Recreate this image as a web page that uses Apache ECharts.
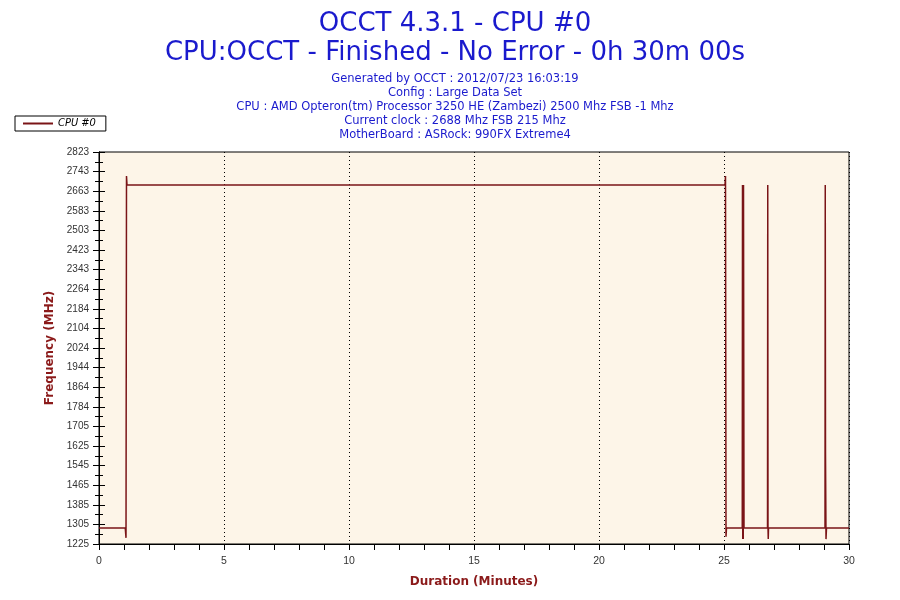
<!DOCTYPE html>
<html>
<head>
<meta charset="utf-8">
<script src="https://cdn.jsdelivr.net/npm/echarts@6/dist/echarts.min.js"></script>
<style>
  html, body { margin: 0; padding: 0; background: #fff; }
  #chart { width: 900px; height: 600px; }
</style>
</head>
<body>
<div id="chart"></div>
<script>
// y axis runs from 1225 to 2823 in 20 steps, labels as printed by OCCT
const yMin = 1225
const yMax = 2823
const yTickLabels = ['1225', '1305', '1385', '1465', '1545', '1625', '1705', '1784', '1864', '1944',
    '2024', '2104', '2184', '2264', '2343', '2423', '2503', '2583', '2663', '2743', '2823']

// duration in minutes
const minutes = [0, 1.05, 1.08, 1.1, 1.12, 25.04, 25.06, 25.08, 25.1,
    25.73, 25.74, 25.75, 25.76, 25.77, 25.78, 25.8,
    26.74, 26.75, 26.76, 26.77, 26.78,
    29.04, 29.05, 29.06, 29.07, 29.08, 29.1, 30]
// frequency in MHz
const freq = [1290, 1290, 1250, 2725, 2688, 2688, 2725, 1255, 1290,
    1290, 2688, 1245, 2688, 1245, 2688, 1290,
    1290, 2688, 1290, 1245, 1290,
    1290, 2688, 1600, 1600, 1245, 1290, 1290]

const titleLines = ['Generated by OCCT : 2012/07/23 16:03:19', 'Config : Large Data Set',
    'CPU : AMD Opteron(tm) Processor 3250 HE (Zambezi) 2500 Mhz FSB -1 Mhz',
    'Current clock : 2688 Mhz FSB 215 Mhz', 'MotherBoard : ASRock: 990FX Extreme4']

const yStep = (yMax - yMin) / 20
const lineColor = '#7a1417'

const chart = echarts.init(document.getElementById('chart'))

const titles = [
    {text: 'OCCT 4.3.1 - CPU #0', top: 6},
    {text: 'CPU:OCCT - Finished - No Error - 0h 30m 00s', top: 35}
].map(t => ({
    text: t.text, left: 450, top: t.top, textAlign: 'center',
    textStyle: {color: '#1a1acd', fontSize: 26, fontWeight: 'normal', fontFamily: 'DejaVu Sans'}
}))
titleLines.forEach((s, i) => {
    titles.push({
        text: s, left: 450, top: 68 + i * 14, textAlign: 'center',
        textStyle: {color: '#1a1acd', fontSize: 11.5, fontWeight: 'normal', fontFamily: 'DejaVu Sans'}
    })
})

const yCommon = {
    type: 'value', min: 0, max: yMax - yMin, interval: yStep,
    splitLine: {show: false},
    axisLine: {show: true, lineStyle: {color: '#000'}},
    minorTick: {show: true, splitNumber: 2, length: 4, lineStyle: {color: '#000'}},
    axisTick: {show: true, length: 6, lineStyle: {color: '#000'}}
}

chart.setOption({
    backgroundColor: '#ffffff',
    animation: false,
    title: titles,
    legend: {
        left: 15, top: 116, orient: 'vertical',
        itemWidth: 30, itemHeight: 2, itemGap: 0,
        padding: [2, 10, 2, 8],
        borderColor: '#000', borderWidth: 1, borderRadius: 0,
        icon: 'rect',
        textStyle: {fontStyle: 'italic', fontSize: 11, color: '#000', fontFamily: 'DejaVu Sans Condensed'},
        data: ['CPU #0']
    },
    grid: {
        left: 99, right: 51, top: 152, bottom: 56,
        show: true, backgroundColor: '#fdf5e8', borderColor: '#000', borderWidth: 1
    },
    xAxis: {
        type: 'value', min: 0, max: 30, interval: 5,
        name: 'Duration (Minutes)', nameLocation: 'middle', nameGap: 32,
        nameTextStyle: {color: '#8b1a1a', fontWeight: 'bold', fontSize: 12, fontFamily: 'DejaVu Sans'},
        axisLine: {lineStyle: {color: '#000'}},
        axisTick: {length: 6, lineStyle: {color: '#000'}},
        minorTick: {show: true, splitNumber: 5, length: 6, lineStyle: {color: '#000'}},
        axisLabel: {color: '#333', fontSize: 10.5, fontFamily: 'Liberation Sans', margin: 12},
        splitLine: {show: true, lineStyle: {color: '#000', type: [1, 3], width: 1}}
    },
    yAxis: [
        Object.assign({}, yCommon, {
            name: 'Frequency (MHz)', nameLocation: 'middle', nameGap: 42,
            nameTextStyle: {color: '#8b1a1a', fontWeight: 'bold', fontSize: 12, fontFamily: 'DejaVu Sans'},
            axisLabel: {
                color: '#333', fontSize: 10, fontFamily: 'Liberation Sans', margin: 10,
                formatter: (v) => yTickLabels[Math.round(v / yStep)]
            }
        }),
        Object.assign({}, yCommon, {
            position: 'left',
            axisTick: {show: true, inside: true, length: 6, lineStyle: {color: '#000'}},
            minorTick: {show: true, splitNumber: 2, length: 4, lineStyle: {color: '#000'}},
            axisLabel: {show: false}
        })
    ],
    series: [{
        name: 'CPU #0',
        type: 'line',
        yAxisIndex: 0,
        showSymbol: false,
        symbol: 'none',
        color: lineColor,
        lineStyle: {color: lineColor, width: 1.5},
        data: minutes.map((m, i) => [m, freq[i] - yMin])
    }]
})
</script>
</body>
</html>
